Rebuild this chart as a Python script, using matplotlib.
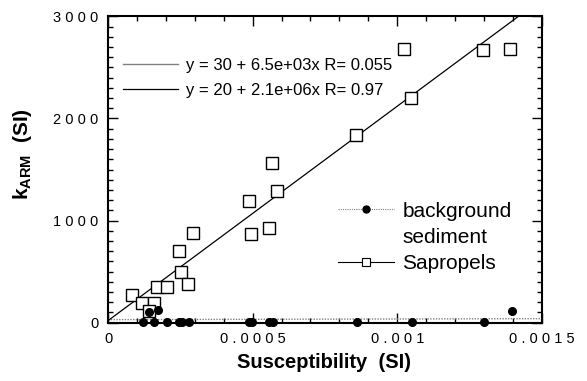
import numpy as np
import matplotlib
matplotlib.use("Agg")
import matplotlib.pyplot as plt
from matplotlib.lines import Line2D
from matplotlib.ticker import MultipleLocator

plt.rcParams['font.family'] = ['Liberation Sans', 'DejaVu Sans']
plt.rcParams['mathtext.fontset'] = 'custom'
plt.rcParams['mathtext.rm'] = 'Liberation Sans'
plt.rcParams['mathtext.bf'] = 'Liberation Sans:bold'

# Sapropel samples (susceptibility SI, kARM SI)
sap_x = [8.4e-5, 1.19e-4, 1.59e-4, 1.41e-4, 1.71e-4, 2.04e-4, 2.53e-4, 2.77e-4,
         2.44e-4, 2.95e-4, 4.86e-4, 4.95e-4, 5.56e-4, 5.68e-4, 5.85e-4, 8.59e-4,
         1.022e-3, 1.048e-3, 1.297e-3, 1.391e-3]
sap_y = [275, 196, 196, 114, 352, 346, 493, 381,
         700, 874, 1190, 867, 931, 1561, 1290, 1842,
         2680, 2203, 2666, 2680]

# background sediment samples
bg_x = [1.20e-4, 1.42e-4, 1.60e-4, 1.72e-4, 2.05e-4, 2.44e-4, 2.56e-4, 2.79e-4,
        4.87e-4, 4.99e-4, 5.56e-4, 5.69e-4, 8.61e-4, 1.052e-3, 1.301e-3, 1.396e-3]
bg_y = [5, 105, 5, 120, 5, 8, 5, 5, 5, 5, 5, 8, 5, 5, 5, 115]

# linear fits (intercept, slope)
bg_fit = (30, 6.5e3)
sap_fit = (20, 2.1e6)
bg_fit_label = "y = 30 + 6.5e+03x R= 0.055"
sap_fit_label = "y = 20 + 2.1e+06x R= 0.97"

xtick_vals = [0, 0.0005, 0.001, 0.0015]
xtick_text = ['0', '0.0005', '0.001', '0.0015']
ytick_vals = [0, 1000, 2000, 3000]
ytick_text = ['0', '1000', '2000', '3000']

fig = plt.figure(figsize=(5.87, 3.81), dpi=100)
ax = fig.add_axes([0.184, 0.153, 0.739, 0.804])

xfit = np.linspace(0, 0.0015, 50)
ax.plot(xfit, bg_fit[0] + bg_fit[1] * xfit, color='gray', lw=1.0, ls=(0, (1, 1)), zorder=2)
ax.plot(xfit, sap_fit[0] + sap_fit[1] * xfit, color='black', lw=0.9, zorder=2)

ax.plot(sap_x, sap_y, ls='none', marker='s', ms=8, mfc='white', mec='black', mew=1.0, zorder=3)
ax.plot(bg_x, bg_y, ls='none', marker='o', ms=5.5, mfc='black', mec='black', zorder=4, clip_on=False)

ax.set_xlim(0, 0.0015)
ax.set_ylim(0, 3000)
ax.set_xticks(xtick_vals)
ax.set_xticklabels([' '.join(s) for s in xtick_text])
ax.set_yticks(ytick_vals)
ax.set_yticklabels([' '.join(s) for s in ytick_text])
ax.xaxis.set_minor_locator(MultipleLocator(0.0001))
ax.yaxis.set_minor_locator(MultipleLocator(100))
ax.tick_params(which='both', direction='in', top=True, right=True, width=1.0)
ax.tick_params(which='major', length=7, labelsize=10.5)
ax.tick_params(which='minor', length=3.5)
ax.tick_params(axis='x', pad=7)
ax.tick_params(axis='y', pad=7)
for sp in ax.spines.values():
    sp.set_linewidth(1.5)

ax.set_xlabel("Susceptibility  (SI)", fontsize=14.5, fontweight='bold')
ax.xaxis.set_label_coords(0.497, -0.10)
ax.set_ylabel(r"$\mathbf{k_{ARM}}$  (SI)", fontsize=15, fontweight='bold')
ax.yaxis.set_label_coords(-0.17, 0.55)

# fit legend (upper left)
fit_handles = [Line2D([], [], color='gray', lw=1.0),
               Line2D([], [], color='black', lw=0.9)]
leg1 = ax.legend(fit_handles, [bg_fit_label, sap_fit_label], loc='upper left',
                 bbox_to_anchor=(0.035, 0.865), frameon=False, fontsize=12,
                 handlelength=3.3, handletextpad=0.45, labelspacing=0.6,
                 borderpad=0, borderaxespad=0)
ax.add_artist(leg1)

# data legend (lower right)
data_handles = [Line2D([], [], color='gray', lw=0.8, ls=(0, (1, 1)), marker='o', ms=5,
                       mfc='black', mec='black'),
                Line2D([], [], ls='none'),
                Line2D([], [], color='black', lw=0.8, marker='s', ms=6,
                       mfc='white', mec='black', mew=0.8)]
ax.legend(data_handles, ['background', 'sediment', 'Sapropels'], loc='upper left',
          bbox_to_anchor=(0.53, 0.395), frameon=False, fontsize=15,
          handlelength=2.7, handletextpad=0.4, labelspacing=0.34,
          borderpad=0, borderaxespad=0)

fig.savefig("out.png", dpi=100)
